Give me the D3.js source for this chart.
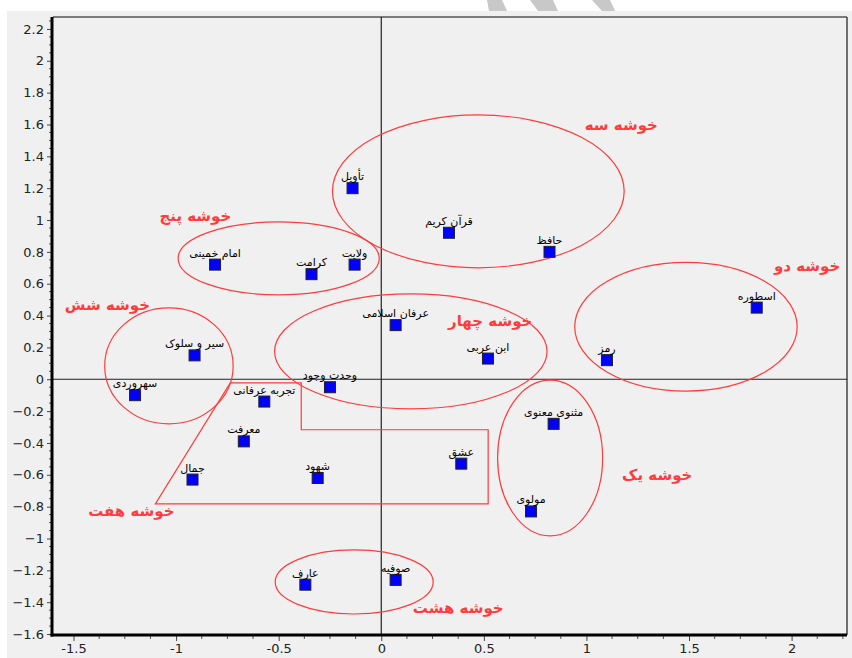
<!DOCTYPE html>
<html><head><meta charset="utf-8">
<script src="https://cdn.jsdelivr.net/npm/d3@7"></script>
<style>body{margin:0;background:#fff}svg{display:block}</style>
</head><body>
<svg id="c" width="852" height="658"></svg>
<script>
// ---- data ----
const terms = ['تأویل','قرآن کریم','حافظ','امام خمینی','ولایت','کرامت','اسطوره','عرفان اسلامی','سیر و سلوک','ابن عربی','رمز','وحدت وجود','سهروردی','تجربه عرفانی','مثنوی معنوی','معرفت','عشق','جمال','شهود','مولوی','صوفیه','عارف'];
const dim1 = [-0.14,0.33,0.82,-0.81,-0.13,-0.34,1.83,0.07,-0.91,0.52,1.10,-0.25,-1.20,-0.57,0.84,-0.67,0.39,-0.92,-0.31,0.73,0.07,-0.37];
const dim2 = [1.20,0.92,0.80,0.72,0.72,0.66,0.45,0.34,0.15,0.13,0.12,-0.05,-0.10,-0.14,-0.28,-0.39,-0.53,-0.63,-0.62,-0.83,-1.26,-1.29];

const xTicks = [-1.5,-1,-0.5,0,0.5,1,1.5,2];
const yTicks = [-1.6,-1.4,-1.2,-1,-0.8,-0.6,-0.4,-0.2,0,0.2,0.4,0.6,0.8,1,1.2,1.4,1.6,1.8,2,2.2];

// cluster annotations (data units)
const clusterNames = ['خوشه یک','خوشه دو','خوشه سه','خوشه چهار','خوشه پنج','خوشه شش','خوشه هفت','خوشه هشت'];
const clusterLabelX = [1.345,2.076,1.170,0.531,-0.906,-1.335,-1.218,0.375];
const clusterLabelY = [-0.601,0.712,1.597,0.366,1.026,0.467,-0.827,-1.437];
// ellipses: cx, cy, rx, ry
const ellipseCX = [0.823,1.485,0.473,0.144,-0.500,-1.035,-0.132];
const ellipseCY = [-0.494,0.330,1.180,0.175,0.759,0.084,-1.273];
const ellipseRX = [0.256,0.542,0.711,0.664,0.490,0.313,0.385];
const ellipseRY = [0.489,0.404,0.480,0.361,0.229,0.364,0.201];
// cluster seven polygon
const polyX = [-0.736,-0.390,-0.390,0.521,0.521,-1.101];
const polyY = [-0.023,-0.023,-0.317,-0.317,-0.783,-0.783];

// ---- chart ----
const svg = d3.select('#c');
const L=53, R=847, T=17, B=635;
const x = d3.scaleLinear().domain([-1.6,2.27]).range([L,R]);
const y = d3.scaleLinear().domain([-1.606,2.275]).range([B,T]);

// watermark strokes (decorative)
const wm = [[[487,0],[502,0],[507,11],[489,11]],[[530,0],[553,0],[558,11],[538,11]],[[592,0],[610,0],[615,11],[602,11]]];
svg.selectAll('path.wm').data(wm).join('path').attr('class','wm')
  .attr('d',d=>'M'+d.join('L')+'Z').attr('fill','#c8c8c8');

svg.append('rect').attr('x',7).attr('y',11).attr('width',845).attr('height',647).attr('fill','#f0f0f0');

// frame
svg.append('line').attr('x1',L).attr('x2',R).attr('y1',T).attr('y2',T).attr('stroke','#555').attr('stroke-width',1.5);
svg.append('line').attr('x1',R).attr('x2',R).attr('y1',T).attr('y2',B).attr('stroke','#444').attr('stroke-width',1.5);

// zero lines
svg.append('line').attr('x1',x(0)).attr('x2',x(0)).attr('y1',T).attr('y2',B).attr('stroke','#222').attr('stroke-width',1.2);
svg.append('line').attr('x1',L).attr('x2',R).attr('y1',y(0)).attr('y2',y(0)).attr('stroke','#222').attr('stroke-width',1.2);

// minor ticks
const xMinor = d3.range(-1.5,2.27,0.125).filter(v=>Math.abs(v*2-Math.round(v*2))>1e-6);
const yMinor = d3.range(-1.6,2.27,0.05).filter(v=>Math.abs(v*5-Math.round(v*5))>1e-6);
svg.append('g').selectAll('line').data(xMinor).join('line')
  .attr('x1',d=>x(d)).attr('x2',d=>x(d)).attr('y1',B).attr('y2',B+4).attr('stroke','#555');
svg.append('g').selectAll('line').data(yMinor).join('line')
  .attr('y1',d=>y(d)).attr('y2',d=>y(d)).attr('x1',L-4).attr('x2',L).attr('stroke','#555');

// axes
const xAxis = d3.axisBottom(x).tickValues(xTicks).tickFormat(d3.format('')).tickSize(6).tickPadding(3);
const yAxis = d3.axisLeft(y).tickValues(yTicks).tickFormat(d3.format('')).tickSize(6).tickPadding(3);
const gx = svg.append('g').attr('transform',`translate(0,${B})`).call(xAxis);
const gy = svg.append('g').attr('transform',`translate(${L},0)`).call(yAxis);
[gx,gy].forEach(g=>{
  g.select('.domain').remove();
  g.selectAll('.tick line').attr('stroke','#444');
  g.selectAll('.tick text').attr('font-family','DejaVu Sans, sans-serif').attr('font-size',13).attr('fill','#222');
});
gx.selectAll('.tick text').text(d=>d===0?'0':String(d).replace('-','-'));
// thick axis lines
svg.append('line').attr('x1',L-1).attr('x2',L-1).attr('y1',T).attr('y2',B+1.5).attr('stroke','#000').attr('stroke-width',3);
svg.append('line').attr('x1',L-2.5).attr('x2',R).attr('y1',B).attr('y2',B).attr('stroke','#000').attr('stroke-width',3);

// cluster shapes
const red = '#ff3b3b';
svg.append('g').selectAll('ellipse').data(ellipseCX).join('ellipse')
  .attr('cx',(d,i)=>x(d)).attr('cy',(d,i)=>y(ellipseCY[i]))
  .attr('rx',(d,i)=>x(ellipseRX[i])-x(0)).attr('ry',(d,i)=>y(0)-y(ellipseRY[i]))
  .attr('fill','none').attr('stroke',red).attr('stroke-width',1.2);
svg.append('path')
  .attr('d','M'+polyX.map((v,i)=>x(v)+','+y(polyY[i])).join('L')+'Z')
  .attr('fill','none').attr('stroke',red).attr('stroke-width',1.2);

// points
const pts = terms.map((t,i)=>({t, x:dim1[i], y:dim2[i]}));
const s = 11;
svg.append('g').selectAll('rect').data(pts).join('rect')
  .attr('x',d=>x(d.x)-s/2).attr('y',d=>y(d.y)-s/2).attr('width',s).attr('height',s)
  .attr('fill','#0000ff').attr('stroke','#222').attr('stroke-width',1);
svg.append('g').selectAll('text').data(pts).join('text')
  .attr('x',d=>x(d.x)).attr('y',d=>y(d.y)-8)
  .attr('text-anchor','middle').attr('font-family','DejaVu Sans, sans-serif').attr('font-size',11)
  .attr('fill','#000').text(d=>d.t);

// cluster labels
svg.append('g').selectAll('text').data(clusterNames).join('text')
  .attr('x',(d,i)=>x(clusterLabelX[i])).attr('y',(d,i)=>y(clusterLabelY[i]))
  .attr('dy','0.35em').attr('text-anchor','middle')
  .attr('font-family','DejaVu Sans, sans-serif').attr('font-size',15).attr('font-weight','bold')
  .attr('fill',red).text(d=>d);
</script>
</body></html>
